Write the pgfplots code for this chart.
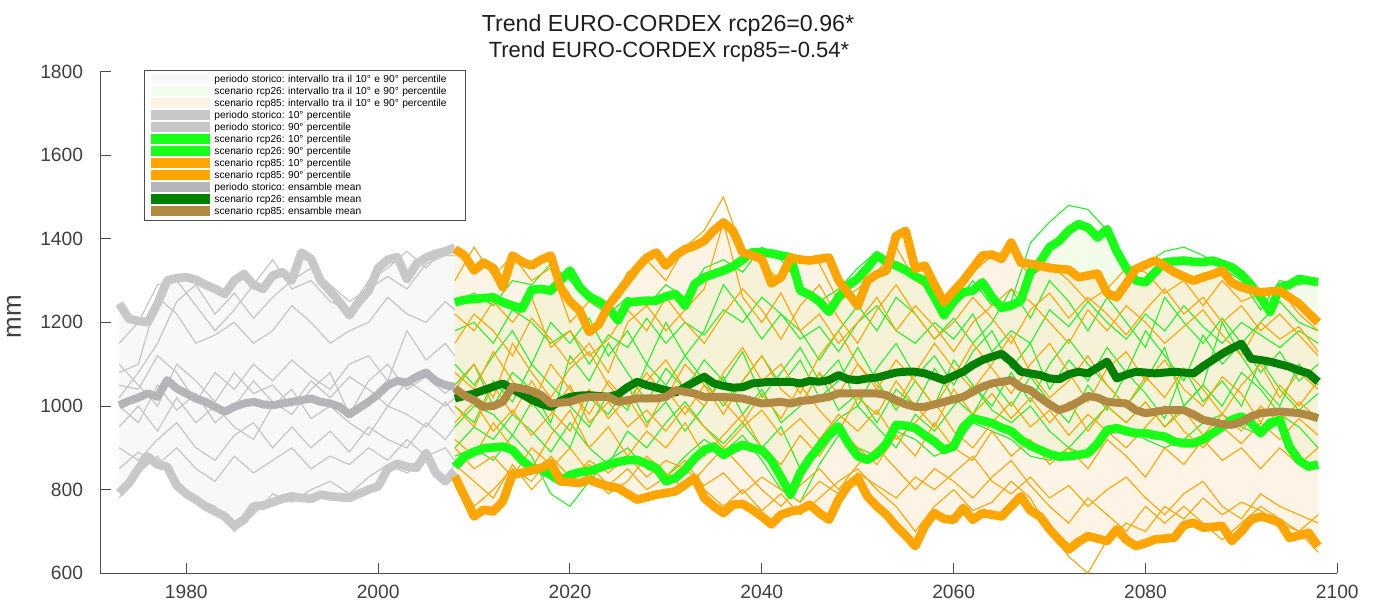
\documentclass[border=0pt]{standalone}
\usepackage{fontspec}
\setmainfont{Liberation Sans}
\usepackage{pgfplots}
\usepackage{pgfplotstable}
\pgfplotsset{compat=1.18}
\usepgfplotslibrary{fillbetween}
\frenchspacing

\definecolor{histthin}{RGB}{198,198,200}
\definecolor{histpct}{RGB}{200,200,203}
\definecolor{histmean}{RGB}{180,180,185}
\definecolor{histfill}{RGB}{248,248,248}
\definecolor{gr}{RGB}{24,255,24}
\definecolor{grthin}{RGB}{40,240,40}
\definecolor{grfill}{RGB}{242,252,232}
\definecolor{grfillL}{RGB}{243,253,235}
\definecolor{darkgr}{RGB}{0,128,0}
\definecolor{orng}{RGB}{255,165,0}
\definecolor{orfill}{RGB}{251,228,190}
\definecolor{orfillL}{RGB}{253,244,228}
\definecolor{brn}{RGB}{176,137,66}
\definecolor{axcol}{RGB}{77,77,77}
\definecolor{txtcol}{RGB}{64,64,64}
\definecolor{titlecol}{RGB}{30,30,30}

% historical percentiles and mean
\pgfplotstableread{
year lo hi m
1973 792 1245 1002
1974 815 1209 1012
1975 850 1203 1020
1976 879 1201 1030
1977 860 1245 1022
1978 855 1300 1062
1979 810 1306 1042
1980 790 1308 1030
1981 776 1302 1018
1982 760 1290 1010
1983 748 1280 998
1984 736 1268 986
1985 713 1300 998
1986 728 1316 1006
1987 760 1290 1010
1988 762 1280 1004
1989 770 1312 1002
1990 778 1320 1006
1991 784 1300 1010
1992 780 1367 1014
1993 778 1352 1018
1994 788 1300 1010
1995 784 1275 1006
1996 782 1248 998
1997 780 1217 980
1998 790 1250 995
1999 800 1275 1010
2000 808 1330 1028
2001 850 1350 1050
2002 862 1356 1060
2003 855 1304 1056
2004 852 1340 1070
2005 887 1355 1080
2006 840 1364 1060
2007 820 1370 1050
2008 844 1379 1046
}\histtab

% historical single models
\pgfplotstableread{
year H1 H2 H3 H4 H5 H6 H7 H8 H9 H10
1973 1150 1080 1050 1000 950 900 850 780 1100 1020
1975 1200 1100 1040 960 1000 870 890 840 1050 1080
1977 1290 1260 1120 1050 940 920 860 880 1000 1150
1979 1300 1220 1080 990 1020 960 900 810 1100 1250
1981 1240 1150 1010 1030 960 900 850 780 1060 1290
1983 1180 1170 1080 960 1000 870 820 760 1010 1220
1985 1230 1200 1040 1000 950 930 880 700 1080 1270
1987 1290 1150 1100 1060 920 960 840 740 1030 1210
1989 1350 1180 1060 1010 1000 900 870 790 1050 1260
1991 1280 1240 1110 980 1040 950 900 770 1000 1300
1993 1300 1200 1070 1040 970 900 850 800 1060 1330
1995 1250 1150 1040 1080 1000 940 880 820 1020 1290
1997 1230 1180 1100 980 960 890 860 790 1070 1250
1999 1300 1200 1120 1060 930 950 900 830 1040 1280
2001 1330 1260 1060 1100 1000 920 870 860 1000 1310
2003 1370 1220 1180 1040 980 900 920 840 1060 1280
2005 1330 1200 1110 1070 950 960 880 870 1030 1340
2007 1380 1250 1150 1030 1010 920 900 830 1000 1360
2008 1370 1230 1120 1050 980 950 870 860 1020 1360
}\histthin

% scenario percentiles and means
\pgfplotstableread{
year lo26 hi26 lo85 hi85 m26 m85
2008 855 1248 832 1375 1018 1042
2009 879 1254 784 1360 1024 1025
2010 890 1256 736 1324 1030 1014
2011 899 1258 752 1343 1038 998
2012 901 1260 748 1330 1046 1000
2013 903 1248 772 1284 1054 1010
2014 895 1240 836 1360 1040 1046
2015 870 1233 840 1345 1028 1042
2016 852 1278 846 1336 1015 1036
2017 848 1280 852 1350 1005 1026
2018 835 1276 864 1360 998 1006
2019 820 1300 820 1284 1012 1008
2020 835 1324 818 1250 1022 1010
2021 842 1284 816 1229 1025 1018
2022 844 1262 824 1177 1026 1022
2023 852 1250 815 1195 1024 1022
2024 860 1235 808 1240 1022 1022
2025 866 1205 804 1270 1028 1010
2026 871 1248 790 1300 1045 1014
2027 871 1250 776 1330 1058 1018
2028 862 1252 782 1355 1050 1018
2029 852 1252 788 1367 1044 1018
2030 820 1262 792 1336 1038 1022
2031 828 1268 796 1360 1032 1038
2032 848 1240 812 1375 1045 1034
2033 875 1292 828 1383 1058 1030
2034 895 1308 780 1395 1070 1022
2035 903 1316 760 1420 1054 1022
2036 883 1324 744 1439 1048 1022
2037 897 1334 764 1419 1044 1020
2038 907 1350 766 1367 1045 1018
2039 900 1368 752 1360 1054 1012
2040 895 1368 736 1352 1056 1006
2041 870 1365 717 1293 1058 1008
2042 830 1360 740 1308 1058 1010
2043 788 1356 748 1355 1058 1006
2044 840 1276 752 1350 1054 1012
2045 875 1266 764 1348 1060 1014
2046 903 1250 744 1352 1058 1018
2047 930 1225 728 1355 1062 1022
2048 951 1260 776 1300 1074 1030
2049 911 1288 810 1270 1064 1030
2050 880 1305 828 1240 1062 1030
2051 871 1330 784 1300 1066 1030
2052 885 1360 760 1315 1068 1030
2053 911 1345 740 1324 1074 1026
2054 955 1336 713 1407 1080 1014
2055 953 1325 690 1419 1082 1004
2056 947 1310 665 1328 1082 998
2057 930 1300 713 1336 1078 998
2058 915 1260 744 1290 1070 1004
2059 895 1217 730 1248 1062 1010
2060 903 1250 728 1275 1072 1016
2061 950 1272 756 1300 1082 1022
2062 971 1276 728 1330 1098 1034
2063 965 1296 744 1360 1110 1046
2064 959 1260 740 1362 1118 1054
2065 948 1235 736 1352 1125 1058
2066 940 1240 760 1391 1106 1062
2067 920 1252 784 1343 1082 1045
2068 905 1320 750 1340 1078 1038
2069 895 1345 736 1336 1074 1020
2070 885 1380 705 1330 1066 1004
2071 879 1395 680 1328 1064 990
2072 880 1420 657 1326 1076 998
2073 883 1435 675 1308 1082 1010
2074 887 1427 689 1312 1078 1024
2075 910 1403 683 1317 1092 1020
2076 943 1423 677 1270 1106 1010
2077 947 1370 705 1260 1066 1008
2078 940 1330 680 1293 1075 1006
2079 935 1300 665 1328 1082 990
2080 935 1296 672 1338 1080 983
2081 930 1320 681 1348 1078 986
2082 927 1344 683 1335 1080 990
2083 915 1346 685 1320 1082 990
2084 911 1348 715 1310 1080 990
2085 911 1345 721 1300 1078 980
2086 920 1344 709 1308 1095 967
2087 935 1348 711 1315 1110 962
2088 950 1340 713 1324 1125 957
2089 967 1332 677 1295 1138 955
2090 975 1315 700 1284 1149 962
2091 960 1290 728 1278 1113 975
2092 935 1260 736 1272 1110 983
2093 960 1225 730 1274 1106 985
2094 967 1284 721 1276 1100 987
2095 903 1290 685 1260 1094 985
2096 870 1304 690 1245 1085 983
2097 855 1300 697 1222 1078 978
2098 860 1296 665 1200 1058 971
}\scentab

% scenario single models (rcp26: G, rcp85: O)
\pgfplotstableread{
year G1 G2 G3 G4 G5 G6 G7 G8 O1 O2 O3 O4 O5 O6 O7 O8 O9 O10 O11
2008 1250 1180 1050 950 880 1000 1100 900 1300 1150 1080 1000 920 840 900 1040 960 860 1220
2010 1270 1200 1100 1000 900 960 1050 950 1380 1220 1040 950 880 760 850 1100 1010 820 1180
2012 1240 1150 1000 980 870 1060 1120 920 1310 1180 1130 1050 960 800 880 1020 940 780 1250
2014 1300 1230 1080 930 930 1010 1180 980 1360 1120 1060 980 900 850 830 1150 990 860 1200
2016 1290 1200 1040 1010 880 1100 1100 940 1300 1210 1000 1060 850 820 900 1080 930 800 1260
2018 1340 1150 960 950 790 1050 1200 890 1330 1160 1100 990 930 880 860 1020 980 850 1140
2020 1300 1180 1120 900 760 1000 1150 960 1200 1100 1040 940 990 830 820 1090 1050 900 1180
2022 1250 1100 1060 1020 820 950 1210 900 1250 1150 980 1040 900 860 870 1130 960 840 1120
2024 1220 1170 1150 980 870 1030 1120 860 1230 1080 1060 970 950 810 840 1050 1010 790 1160
2026 1260 1140 1080 1050 900 990 1180 940 1320 1200 1010 1020 880 850 880 1000 950 820 1230
2028 1240 1210 1010 960 850 1100 1100 900 1350 1240 1080 950 940 800 830 1060 990 880 1180
2030 1290 1150 1090 1010 830 1050 1200 960 1300 1180 1020 1040 900 830 870 1110 940 840 1260
2032 1260 1200 1040 940 880 1120 1120 1010 1380 1230 1100 980 960 870 850 1040 1000 800 1200
2034 1330 1170 1110 1000 920 1060 1180 950 1420 1280 1050 1050 880 800 810 1000 950 850 1150
2036 1350 1230 1060 1070 890 1000 1290 910 1500 1440 980 1010 930 760 840 1080 900 900 1220
2038 1320 1200 1130 980 930 1060 1230 960 1370 1260 1060 960 980 800 790 1140 950 850 1280
2040 1380 1260 1020 1040 870 1120 1160 900 1340 1200 1120 1030 900 750 830 1060 990 800 1230
2042 1350 1220 1080 960 800 1050 1220 950 1300 1270 1040 970 860 790 800 1100 930 760 1160
2044 1290 1160 1140 1000 770 1110 1180 850 1360 1180 1000 1050 930 740 770 1030 970 810 1240
2046 1250 1190 1060 1080 860 1020 1110 920 1340 1220 1080 990 880 780 820 1120 920 850 1290
2048 1280 1130 1110 990 930 1060 1180 970 1250 1150 1030 940 950 820 790 1180 980 800 1210
2050 1330 1200 1000 1030 900 1140 1240 1000 1280 1200 1100 1020 900 850 840 1100 940 860 1150
2052 1370 1240 1090 960 880 1060 1180 950 1320 1260 1050 980 860 800 810 1040 990 900 1230
2054 1330 1180 1150 1040 940 990 1260 900 1380 1180 1000 1060 930 760 780 1110 920 850 1290
2056 1320 1150 1070 1000 920 1060 1220 980 1300 1240 1080 1000 880 700 830 1060 960 800 1220
2058 1250 1200 1120 1090 880 1000 1160 940 1270 1190 1150 950 960 760 800 1000 1010 850 1160
2060 1240 1160 1050 1020 900 1110 1210 1000 1250 1130 1090 1040 900 800 840 1070 940 820 1200
2062 1300 1220 1130 980 960 1050 1150 1050 1320 1200 1040 980 870 750 880 1150 900 780 1260
2064 1240 1130 1180 1060 940 1000 1200 990 1360 1240 1100 1030 940 770 820 1090 960 830 1210
2066 1250 1180 1090 1000 920 1080 1280 960 1370 1280 1170 970 880 820 790 1030 1010 870 1150
2068 1390 1150 1150 1070 880 1010 1210 1000 1310 1250 1080 1020 920 780 830 1100 950 810 1230
2070 1440 1230 1040 1010 870 1100 1300 940 1340 1200 1020 960 860 700 780 1150 990 760 1270
2072 1480 1190 1110 960 900 1160 1250 900 1300 1150 1060 1010 900 640 810 1080 930 720 1210
2074 1470 1250 1060 1050 880 1100 1180 950 1250 1230 1120 940 850 600 760 1010 980 780 1260
2076 1420 1200 1140 990 930 1050 1260 1000 1280 1180 1050 1000 920 680 800 1090 940 740 1220
2078 1330 1160 1080 1080 950 1000 1200 960 1330 1240 1000 960 880 720 830 1130 900 700 1170
2080 1340 1220 1180 1030 920 1060 1140 1010 1320 1200 1070 1010 830 700 780 1060 950 760 1230
2082 1370 1180 1120 970 900 1140 1260 950 1270 1150 1020 950 900 760 740 1110 1000 720 1280
2084 1380 1240 1060 1090 920 1000 1200 1000 1300 1190 1090 990 860 730 790 1040 940 760 1220
2086 1360 1190 1170 1010 960 1050 1150 1050 1240 1230 1040 930 920 780 820 1000 900 720 1260
2088 1330 1150 1100 1060 980 1200 1210 1000 1300 1170 980 980 870 740 760 1070 950 680 1200
2090 1300 1200 1150 1000 950 1120 1150 1080 1250 1120 1050 940 900 770 730 1030 910 720 1240
2092 1230 1170 1080 1110 930 1050 1200 1040 1270 1200 1100 1000 850 750 790 960 960 760 1180
2094 1300 1140 1130 1040 960 1000 1250 980 1280 1160 1020 960 900 720 760 1050 920 730 1220
2096 1290 1180 1060 990 880 1100 1200 950 1220 1190 1080 1010 860 700 740 1000 970 700 1170
2098 1300 1150 1100 1030 850 1050 1180 900 1180 1130 1040 970 900 650 720 1060 930 740 1120
}\scenthin

\begin{document}
\begin{tikzpicture}
\begin{axis}[
  at={(50pt,14.85pt)}, anchor=south west,
  scale only axis, width=618.65pt, height=250.9pt,
  set layers,
  xmin=1971, xmax=2100, ymin=600, ymax=1800,
  axis x line=bottom, axis y line=left,
  axis line style={axcol, line width=0.5pt, -},
  xtick pos=bottom, ytick pos=left,
  tick align=inside, major tick length=5.3pt,
  tick style={axcol, line width=0.5pt},
  xtick={1980,2000,...,2100}, ytick={600,800,...,1800},
  minor tick num=0,
  /pgf/number format/assume math mode=true,
  /pgf/number format/1000 sep={},
  tick label style={font=\fontsize{9.6}{11}\selectfont, text=txtcol},
  xticklabel style={inner sep=0pt, yshift=-5.6pt},
  yticklabel style={inner sep=0pt, xshift=-8.3pt},
  ylabel={mm},
  every axis y label/.style={at={(axis description cs:-0.0695,0.512)}, rotate=90, anchor=center, font=\fontsize{13}{15}\selectfont, text=txtcol},
  legend image code/.code={\fill[#1, draw=none] (0pt,-2.5pt) rectangle (29.6pt,2.5pt);},
  legend cell align=left,
  legend style={
    at={(0.0356,1.003)}, anchor=north west,
    draw=axcol, line width=0.5pt, fill=white,
    font=\fontsize{5.1}{6}\selectfont,
    inner xsep=3pt, inner ysep=1.5pt,
    row sep=0pt,
    nodes={inner sep=0.6pt, text height=3.7pt, text depth=1.1pt},
    /tikz/every odd column/.append style={column sep=1.75pt},
    /tikz/every even column/.append style={text width=121.9pt},
  },
  thinh/.style={histthin, line width=0.6pt, forget plot},
  thing/.style={grthin, line width=0.55pt, forget plot},
  thino/.style={orng, line width=0.55pt, forget plot},
  pct/.style={line width=4.3pt, line join=round, forget plot},
  mean/.style={line width=4pt, line join=round, forget plot},
]
% legend entries
\addlegendimage{fill=histfill}
\addlegendentry{periodo storico: intervallo tra il 10° e 90° percentile}
\addlegendimage{fill=grfillL}
\addlegendentry{scenario rcp26: intervallo tra il 10° e 90° percentile}
\addlegendimage{fill=orfillL}
\addlegendentry{scenario rcp85: intervallo tra il 10° e 90° percentile}
\addlegendimage{fill=histpct}
\addlegendentry{periodo storico: 10° percentile}
\addlegendimage{fill=histpct}
\addlegendentry{periodo storico: 90° percentile}
\addlegendimage{fill=gr}
\addlegendentry{scenario rcp26: 10° percentile}
\addlegendimage{fill=gr}
\addlegendentry{scenario rcp26: 90° percentile}
\addlegendimage{fill=orng}
\addlegendentry{scenario rcp85: 10° percentile}
\addlegendimage{fill=orng}
\addlegendentry{scenario rcp85: 90° percentile}
\addlegendimage{fill=histmean}
\addlegendentry{periodo storico: ensamble mean}
\addlegendimage{fill=darkgr}
\addlegendentry{scenario rcp26: ensamble mean}
\addlegendimage{fill=brn}
\addlegendentry{scenario rcp85: ensamble mean}

% single models
\pgfplotsinvokeforeach{H1,H2,H3,H4,H5,H6,H7,H8,H9,H10}{
  \addplot[thinh] table[x=year, y=#1]{\histthin};
}
\pgfplotsinvokeforeach{G1,G2,G3,G4,G5,G6,G7,G8}{
  \addplot[thing] table[x=year, y=#1]{\scenthin};
}
\pgfplotsinvokeforeach{O1,O2,O3,O4,O5,O6,O7,O8,O9,O10,O11}{
  \addplot[thino] table[x=year, y=#1]{\scenthin};
}

% percentiles
\addplot[pct, histpct, name path=hlo] table[x=year, y=lo]{\histtab};
\addplot[pct, histpct, name path=hhi] table[x=year, y=hi]{\histtab};
\addplot[pct, gr, name path=glo] table[x=year, y=lo26]{\scentab};
\addplot[pct, gr, name path=ghi] table[x=year, y=hi26]{\scentab};
\addplot[pct, orng, name path=olo] table[x=year, y=lo85]{\scentab};
\addplot[pct, orng, name path=ohi] table[x=year, y=hi85]{\scentab};

% means
\addplot[mean, histmean] table[x=year, y=m]{\histtab};
\addplot[mean, darkgr] table[x=year, y=m26]{\scentab};
\addplot[mean, brn] table[x=year, y=m85]{\scentab};

% bands (placed on the pre main layer)
\addplot[fill=histfill, draw=none, forget plot] fill between[of=hlo and hhi];
\addplot[fill=grfill, draw=none, forget plot] fill between[of=glo and ghi];
\addplot[fill=orfill, fill opacity=0.4, draw=none, forget plot] fill between[of=olo and ohi];
\end{axis}
\node[font=\fontsize{11.6}{14}\selectfont, text=titlecol, anchor=base] at (334pt,285.6pt) {Trend EURO-CORDEX rcp26=0.96*};
\node[font=\fontsize{11}{13}\selectfont, text=titlecol, anchor=base] at (334.5pt,272.6pt) {Trend EURO-CORDEX rcp85=-0.54*};
\pgfresetboundingbox
\useasboundingbox (0,0) rectangle (686.5pt,301.5pt);
\end{tikzpicture}
\end{document}
